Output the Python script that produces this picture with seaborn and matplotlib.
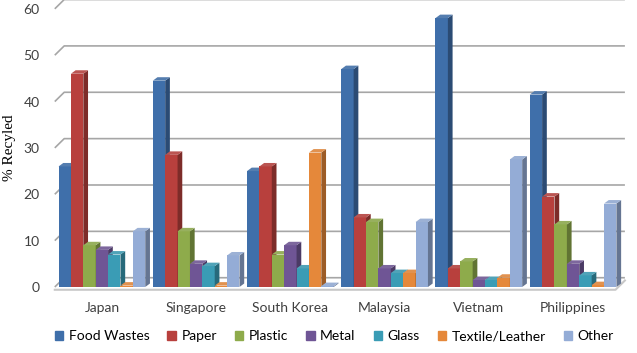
import numpy as np
import pandas as pd
import seaborn as sns
import matplotlib.pyplot as plt
from matplotlib.patches import Polygon
import matplotlib.colors as mcolors

countries = ["Japan", "Singapore", "South Korea", "Malaysia", "Vietnam", "Philippines"]
materials = ["Food Wastes", "Paper", "Plastic", "Metal", "Glass", "Textile/Leather", "Other"]

food_wastes = [26, 44.5, 25, 47, 58, 41.5]
paper = [46, 28.5, 26, 15, 4, 19.5]
plastic = [9, 12, 7, 14, 5.5, 13.5]
metal = [8, 5, 9, 4, 1.5, 5]
glass = [7, 4.5, 4, 3, 1.5, 2.5]
textile_leather = [0.3, 0.3, 29, 3, 2, 0.4]
other = [12, 6.8, 0.2, 14, 27.5, 18]

palette = ["#3F6FAA", "#B8403D", "#8EAB4B", "#6F5595", "#3A9CB5", "#E5883A", "#94ACD6"]

series = [food_wastes, paper, plastic, metal, glass, textile_leather, other]
df = pd.DataFrame({
    "Country": countries * len(materials),
    "Material": [m for m in materials for _ in countries],
    "Value": np.concatenate(series),
})

fig = plt.figure(figsize=(6.37, 3.53), dpi=100)
ax = fig.add_axes([0.086, 0.187, 0.895, 0.788])

sns.barplot(data=df, x="Country", y="Value", hue="Material", order=countries,
            hue_order=materials, palette=palette, width=0.92, saturation=1,
            edgecolor="none", legend=False, ax=ax, zorder=3)

# fake 3D: side and top faces on each bar
dx, dy = 0.05, 0.75
for i, cont in enumerate(ax.containers):
    base = mcolors.to_rgb(palette[i])
    side = tuple(c * 0.68 for c in base)
    top = tuple(min(1, c * 0.85 + 0.12) for c in base)
    for bar in cont:
        x, w, h = bar.get_x(), bar.get_width(), bar.get_height()
        z = 3 + i * 0.1
        bar.set_zorder(z)
        ax.add_patch(Polygon([(x + w, 0), (x + w + dx, dy), (x + w + dx, h + dy), (x + w, h)],
                             closed=True, facecolor=side, edgecolor="none", zorder=z, clip_on=False))
        ax.add_patch(Polygon([(x, h), (x + dx, h + dy), (x + w + dx, h + dy), (x + w, h)],
                             closed=True, facecolor=top, edgecolor="none", zorder=z, clip_on=False))

# back wall gridlines with slanted start
gx, gy = 0.1, 2.0
for v in range(0, 61, 10):
    ax.plot([-0.5, -0.5 + gx, 5.55], [v, v + gy, v + gy], color="#A6A6A6", lw=1.2,
            zorder=1, clip_on=False, solid_capstyle="butt")
# floor front edge
ax.plot([-0.5, 5.45, 5.55], [-0.6, -0.6, gy - 0.6], color="#C8C8C8", lw=1.5, zorder=2, clip_on=False)

ax.set_xlim(-0.5, 5.55)
ax.set_ylim(0, 60)
ax.set_yticks(range(0, 61, 10))
for s in ax.spines.values():
    s.set_visible(False)
ax.tick_params(length=0)
ax.tick_params(axis="y", pad=11)
ax.tick_params(axis="x", pad=11)
for lab in ax.get_yticklabels() + ax.get_xticklabels():
    lab.set_fontfamily("Lato")
    lab.set_fontsize(10)
    lab.set_color("#404040")
ax.set_xlabel("")
ax.set_ylabel("% Recyled", fontfamily="Liberation Serif", fontsize=11, labelpad=5)

handles = [plt.Rectangle((0, 0), 1, 1, color=c) for c in palette]
fig.legend(handles, materials, loc="lower center", ncol=7, frameon=False,
           bbox_to_anchor=(0.525, -0.005), handlelength=0.6, handleheight=0.6,
           handletextpad=0.4, columnspacing=1.3,
           prop={"family": "Lato", "size": 10})

fig.savefig("out.png", dpi=100)
